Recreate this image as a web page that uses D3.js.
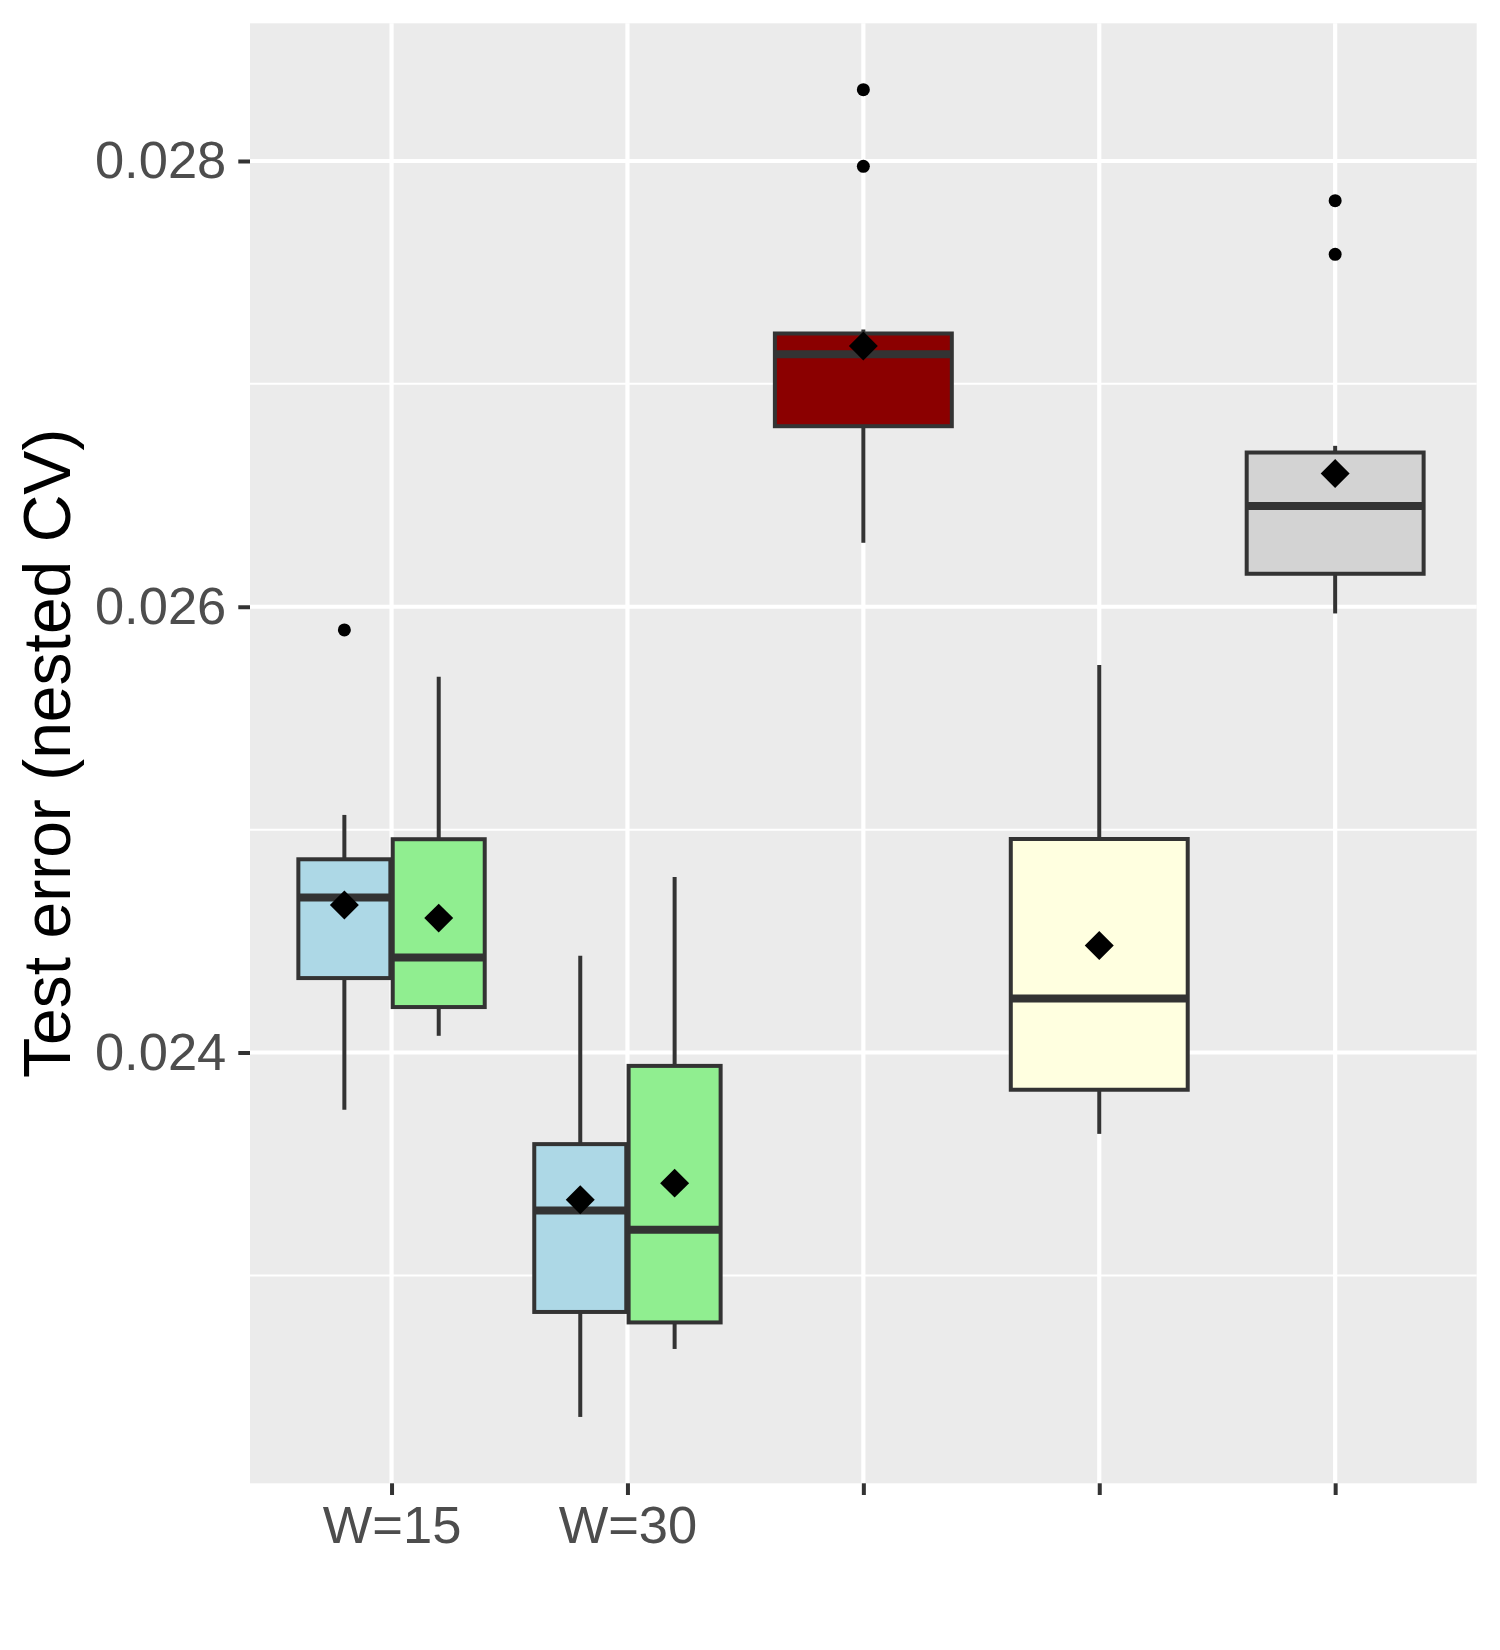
<!DOCTYPE html>
<html>
<head>
<meta charset="utf-8">
<script src="https://cdn.jsdelivr.net/npm/d3@7"></script>
<style>
	body { margin: 0; background: #fff; }
	svg { display: block; font-family: "Liberation Sans", Arial, sans-serif; }
</style>
</head>
<body>
<svg id="chart" width="1500" height="1650"></svg>
<script>
// ________ Data ________
const categories = ['W=15', 'W=30', 'c3', 'c4', 'c5'];
const tickLabels = ['W=15', 'W=30', '', '', ''];

// one entry per box, in drawing order
const boxCategory = ['W=15', 'W=15', 'W=30', 'W=30', 'c3', 'c4', 'c5'];
const boxSeries = ['blue', 'green', 'blue', 'green', 'red', 'yellow', 'grey'];
const lowerWhisker = [0.023743, 0.024075, 0.022365, 0.022670, 0.026287, 0.023635, 0.025970];
const q1 = [0.024334, 0.024204, 0.022836, 0.022789, 0.026810, 0.023833, 0.026148];
const median = [0.024695, 0.024426, 0.023291, 0.023205, 0.027133, 0.024242, 0.026452];
const q3 = [0.024867, 0.024957, 0.023589, 0.023940, 0.027226, 0.024958, 0.026692];
const upperWhisker = [0.025066, 0.025686, 0.024434, 0.024788, 0.027244, 0.025739, 0.026722];
const means = [0.024662, 0.024603, 0.023339, 0.023414, 0.027170, 0.024480, 0.026598];
const outliers = [[0.025896], [], [], [], [0.028320, 0.027976], [], [0.027822, 0.027581]];

const yTicks = [0.024, 0.026, 0.028];
const yMinor = [0.023, 0.025, 0.027];

// ________ Styles ________
const fillColor = {
	blue: '#ADD8E6',
	green: '#90EE90',
	red: '#8B0000',
	yellow: '#FFFFE0',
	grey: '#D3D3D3'
};
const ink = '#333333';

// ________ Scales ________
const panel = { left: 250, right: 1476.7, top: 23.3, bottom: 1483.3 };

const allValues = [...lowerWhisker, ...upperWhisker, ...outliers.flat()];
const [lo, hi] = d3.extent(allValues);
const pad = (hi - lo) * 0.05;

const y = d3.scaleLinear()
	.domain([lo - pad, hi + pad])
	.range([panel.bottom, panel.top]);

const x = d3.scalePoint()
	.domain(categories)
	.range([panel.left, panel.right])
	.padding(0.6);

const step = x.step();
// categories holding more than one box get dodged
const perCategory = d3.group(boxSeries.map((s, i) => i), i => boxCategory[i]);

const boxes = boxSeries.map((series, i) => {
	const members = perCategory.get(boxCategory[i]);
	const n = members.length;
	const k = members.indexOf(i);
	const width = n > 1 ? 0.39 * step : 0.75 * step;
	const offset = n > 1 ? (k - (n - 1) / 2) * 0.4 * step : 0;
	return {
		series,
		cx: x(boxCategory[i]) + offset,
		width,
		lower: lowerWhisker[i],
		q1: q1[i],
		median: median[i],
		q3: q3[i],
		upper: upperWhisker[i],
		mean: means[i],
		outliers: outliers[i]
	};
});

// ________ Drawing ________
const svg = d3.select('#chart');

svg.append('rect')
	.attr('x', panel.left)
	.attr('y', panel.top)
	.attr('width', panel.right - panel.left)
	.attr('height', panel.bottom - panel.top)
	.attr('fill', '#EBEBEB');

const grid = svg.append('g').attr('stroke', '#fff');
grid.selectAll('line.minor')
	.data(yMinor)
	.join('line')
	.attr('class', 'minor')
	.attr('x1', panel.left).attr('x2', panel.right)
	.attr('y1', d => y(d)).attr('y2', d => y(d))
	.attr('stroke-width', 2);
grid.selectAll('line.major-y')
	.data(yTicks)
	.join('line')
	.attr('class', 'major-y')
	.attr('x1', panel.left).attr('x2', panel.right)
	.attr('y1', d => y(d)).attr('y2', d => y(d))
	.attr('stroke-width', 4.2);
grid.selectAll('line.major-x')
	.data(categories)
	.join('line')
	.attr('class', 'major-x')
	.attr('x1', d => x(d)).attr('x2', d => x(d))
	.attr('y1', panel.top).attr('y2', panel.bottom)
	.attr('stroke-width', 4.2);

const box = svg.append('g')
	.selectAll('g')
	.data(boxes)
	.join('g');

// whiskers
box.append('line')
	.attr('x1', d => d.cx).attr('x2', d => d.cx)
	.attr('y1', d => y(d.upper)).attr('y2', d => y(d.q3))
	.attr('stroke', ink).attr('stroke-width', 4);
box.append('line')
	.attr('x1', d => d.cx).attr('x2', d => d.cx)
	.attr('y1', d => y(d.q1)).attr('y2', d => y(d.lower))
	.attr('stroke', ink).attr('stroke-width', 4);

box.append('rect')
	.attr('x', d => d.cx - d.width / 2)
	.attr('y', d => y(d.q3))
	.attr('width', d => d.width)
	.attr('height', d => y(d.q1) - y(d.q3))
	.attr('fill', d => fillColor[d.series])
	.attr('stroke', ink)
	.attr('stroke-width', 4);

box.append('line')
	.attr('x1', d => d.cx - d.width / 2).attr('x2', d => d.cx + d.width / 2)
	.attr('y1', d => y(d.median)).attr('y2', d => y(d.median))
	.attr('stroke', ink).attr('stroke-width', 8);

box.selectAll('circle')
	.data(d => d.outliers.map(v => ({ cx: d.cx, v })))
	.join('circle')
	.attr('cx', d => d.cx)
	.attr('cy', d => y(d.v))
	.attr('r', 6.5)
	.attr('fill', '#000');

const diamond = d3.symbol(d3.symbolSquare, 420);
box.append('path')
	.attr('d', diamond)
	.attr('transform', d => `translate(${d.cx},${y(d.mean)}) rotate(45)`)
	.attr('fill', '#000');

// ________ Axes ________
const yAxis = svg.append('g')
	.attr('transform', `translate(${panel.left},0)`)
	.call(d3.axisLeft(y)
		.tickValues(yTicks)
		.tickFormat(d3.format('.3f'))
		.tickSize(11.7)
		.tickPadding(12));
const xAxis = svg.append('g')
	.attr('transform', `translate(0,${panel.bottom})`)
	.call(d3.axisBottom(x)
		.tickFormat((d, i) => tickLabels[i])
		.tickSize(11.7)
		.tickPadding(11));

[yAxis, xAxis].forEach(axis => {
	axis.select('.domain').remove();
	axis.selectAll('.tick line').attr('stroke', ink).attr('stroke-width', 4);
	axis.selectAll('.tick text')
		.attr('fill', '#4D4D4D')
		.style('font-size', '52.5px')
		.style('font-family', '"Liberation Sans", Arial, sans-serif');
});

svg.append('text')
	.attr('transform', `translate(70,${(panel.top + panel.bottom) / 2}) rotate(-90)`)
	.attr('text-anchor', 'middle')
	.attr('fill', '#000')
	.style('font-size', '66px')
	.text('Test error (nested CV)');
</script>
</body>
</html>
